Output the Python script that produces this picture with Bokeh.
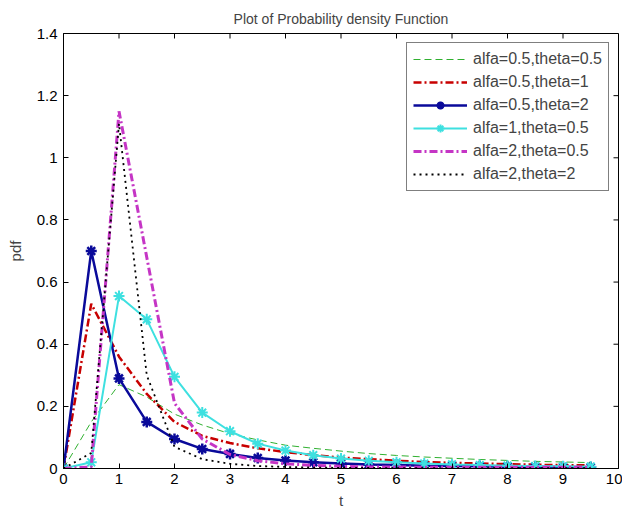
from bokeh.plotting import figure
from bokeh.models import Range1d, FixedTicker
from bokeh.embed import file_html
from bokeh.resources import INLINE

# ---- data ----
t = [0, 0.5, 1, 1.5, 2, 2.5, 3, 3.5, 4, 4.5, 5, 5.5, 6, 6.5, 7, 7.5, 8, 8.5, 9, 9.5]
a05_th05 = [0, 0.15, 0.27, 0.23, 0.175, 0.14, 0.112, 0.092, 0.075, 0.065, 0.056, 0.048,
            0.042, 0.037, 0.033, 0.029, 0.026, 0.023, 0.021, 0.019]
a05_th1 = [0, 0.53, 0.36, 0.24, 0.15, 0.105, 0.082, 0.065, 0.053, 0.043, 0.035, 0.030,
           0.025, 0.021, 0.018, 0.016, 0.014, 0.012, 0.011, 0.010]
a05_th2 = [0, 0.70, 0.29, 0.15, 0.095, 0.063, 0.047, 0.034, 0.026, 0.020, 0.016, 0.013,
           0.011, 0.009, 0.008, 0.007, 0.006, 0.005, 0.005, 0.004]
a1_th05 = [0, 0.02, 0.555, 0.48, 0.295, 0.18, 0.12, 0.08, 0.058, 0.043, 0.032, 0.025,
           0.020, 0.016, 0.013, 0.011, 0.009, 0.008, 0.007, 0.006]
a2_th05 = [0, 0.005, 1.15, 0.68, 0.21, 0.095, 0.045, 0.025, 0.015, 0.010, 0.007, 0.005,
           0.005, 0.004, 0.004, 0.004, 0.004, 0.004, 0.004, 0.004]
a2_th2 = [0, 0.05, 1.11, 0.30, 0.07, 0.03, 0.015, 0.008, 0.005, 0.003, 0.002, 0.002,
          0.001, 0.001, 0.001, 0.001, 0.001, 0.001, 0.001, 0.001]

labels = ["alfa=0.5,theta=0.5", "alfa=0.5,theta=1", "alfa=0.5,theta=2",
          "alfa=1,theta=0.5", "alfa=2,theta=0.5", "alfa=2,theta=2"]

xticks = [0, 1, 2, 3, 4, 5, 6, 7, 8, 9, 10]
yticks = [0, 0.2, 0.4, 0.6, 0.8, 1.0, 1.2, 1.4]
ytick_labels = {0: "0", 0.2: "0.2", 0.4: "0.4", 0.6: "0.6", 0.8: "0.8", 1.0: "1", 1.2: "1.2", 1.4: "1.4"}

FONT = "Liberation Sans"

p = figure(width=622, height=513, output_backend="svg", toolbar_location=None,
           x_range=Range1d(xticks[0], xticks[-1]), y_range=Range1d(yticks[0], yticks[-1]),
           min_border_left=63, min_border_right=4, min_border_top=33, min_border_bottom=45,
           title="Plot of Probability density Function")

p.title.align = "center"
p.title.text_font = FONT
p.title.text_font_size = "14px"
p.title.text_font_style = "normal"
p.title.standoff = 13

p.xgrid.visible = False
p.ygrid.visible = False
p.outline_line_color = "black"
p.outline_line_width = 1
p.background_fill_color = "white"
p.border_fill_color = "white"

for ax, ticks in ((p.xaxis[0], xticks), (p.yaxis[0], yticks)):
    ax.ticker = FixedTicker(ticks=ticks)
    ax.major_tick_in = 5
    ax.major_tick_out = 0
    ax.minor_tick_in = 0
    ax.minor_tick_out = 0
    ax.axis_line_color = "black"
    ax.major_tick_line_color = "black"
    ax.major_label_text_font = FONT
    ax.major_label_text_font_size = "15px"
    ax.major_label_text_color = "black"
    ax.axis_label_text_font = FONT
    ax.axis_label_text_font_size = "15px"
    ax.axis_label_text_font_style = "normal"

p.xaxis[0].axis_label = "t"
p.xaxis[0].major_label_standoff = 5
p.xaxis[0].axis_label_standoff = 5
p.yaxis[0].axis_label = "pdf"
p.yaxis[0].major_label_standoff = 6
p.yaxis[0].axis_label_standoff = 10
p.yaxis[0].major_label_overrides = ytick_labels

# tick marks on the top and right edges of the box (MATLAB style)
p.ray(x=xticks, y=[yticks[-1]] * len(xticks), length=5, length_units="screen",
      angle=-90, angle_units="deg", line_color="black", line_width=1)
p.ray(x=[xticks[-1]] * len(yticks), y=yticks, length=5, length_units="screen",
      angle=180, angle_units="deg", line_color="black", line_width=1)

# ---- series ----
p.line(t, a05_th05, color="#30b030", line_width=1, line_dash="7 4", legend_label=labels[0])
p.line(t, a05_th1, color="#c80000", line_width=2.5, line_dash="8 3 2 3", legend_label=labels[1])
p.line(t, a05_th2, color="#0a0a9a", line_width=2.5, legend_label=labels[2])
p.scatter(t, a05_th2, marker="asterisk", size=11, line_color="#0a0a9a", line_width=2.5,
          legend_label=labels[2])
p.line(t, a1_th05, color="#3ee0e0", line_width=2, legend_label=labels[3])
p.scatter(t, a1_th05, marker="asterisk", size=11, line_color="#3ee0e0", line_width=2,
          legend_label=labels[3])
p.line(t, a2_th05, color="#c535c5", line_width=3, line_dash="8 3 2 3", legend_label=labels[4])
p.line(t, a2_th2, color="black", line_width=1.8, line_dash="2 4", legend_label=labels[5])

lg = p.legend[0]
lg.location = "top_right"
lg.margin = 9
lg.padding = 6
lg.spacing = 3
lg.glyph_width = 54
lg.glyph_height = 20
lg.label_height = 20
lg.label_standoff = 6
lg.label_text_font = FONT
lg.label_text_font_size = "16px"
lg.border_line_color = "black"
lg.border_line_width = 1
lg.background_fill_color = "white"
lg.background_fill_alpha = 1.0

open("out.html", "w").write(file_html(p, INLINE))
